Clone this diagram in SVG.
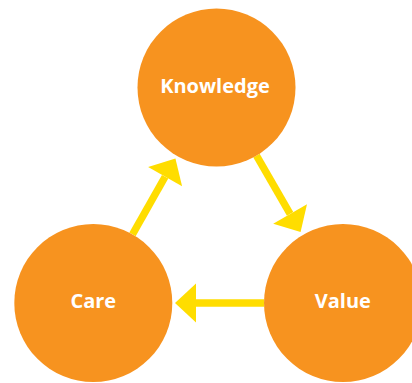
<svg xmlns="http://www.w3.org/2000/svg" width="412" height="383" viewBox="0 0 412 383">
  <style>
    .node circle { fill: #F7931F; }
    .node text { font-family: "Open Sans", "Noto Sans", "DejaVu Sans", sans-serif; font-weight: bold; font-size: 20px; fill: #FFFFFF; text-anchor: middle; }
    .conn { stroke: #FFDD00; stroke-width: 7.3; fill: none; stroke-linecap: butt; marker-end: url(#head); }
  </style>
  <defs>
    <marker id="head" markerUnits="userSpaceOnUse" markerWidth="22" markerHeight="40" viewBox="0 -20 22 40" refX="0" refY="0" orient="auto" overflow="visible">
      <path d="M0,-19.5 L21,0 L0,19.5 Z" fill="#FFDD00"/>
    </marker>
  </defs>
  <rect width="412" height="383" fill="#FFFFFF"/>
  <g id="connectors">
    <path class="conn" d="M132.5,234.4 L165.1,176.7"/>
    <path class="conn" d="M256.5,155.6 L290.1,213.9"/>
    <path class="conn" d="M264,303 L196,303"/>
  </g>
  <g id="node-knowledge" class="node">
    <circle cx="216.5" cy="87.5" r="79"/>
    <text x="215" y="92.5">Knowledge</text>
  </g>
  <g id="node-care" class="node">
    <circle cx="93.3" cy="303" r="79"/>
    <text x="93.3" y="307.7">Care</text>
  </g>
  <g id="node-value" class="node">
    <circle cx="343" cy="303" r="79"/>
    <text x="342.8" y="307.7">Value</text>
  </g>
</svg>
